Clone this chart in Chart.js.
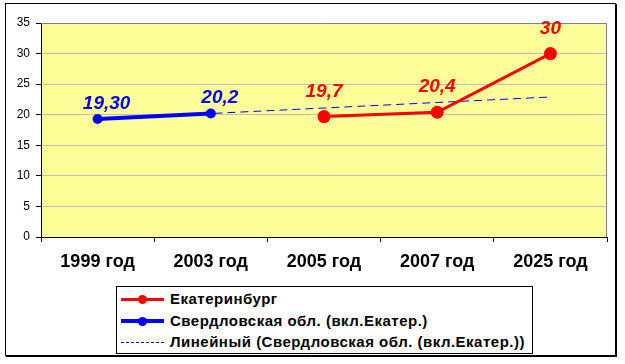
<!DOCTYPE html>
<html>
<head>
<meta charset="utf-8">
<script src="https://cdn.jsdelivr.net/npm/chart.js@4/dist/chart.umd.min.js"></script>
<style>
  html, body { margin: 0; padding: 0; background: #fff; }
  #wrap { position: relative; width: 625px; height: 364px; }
  #legend {
    position: absolute; left: 116px; top: 286px; width: 415px; height: 66px;
    border: 1px solid #000; background: #fff;
    font: bold 15px Arial, "Liberation Sans", sans-serif; color: #000; letter-spacing: 0.5px;
  }
  .row { position: absolute; left: 4px; height: 16px; line-height: 16px; white-space: nowrap; }
  .sample { position: absolute; left: 0; top: 0; width: 43px; height: 16px; }
  .sample .ln { position: absolute; left: 0; right: 0; }
  .sample .dot { position: absolute; left: 17px; width: 9px; height: 9px; border-radius: 50%; top: 4px; }
  .row .txt { position: absolute; left: 49px; top: 0; }
</style>
</head>
<body>
<div id="wrap">
  <canvas id="chart" width="625" height="364"></canvas>
  <div id="legend">
    <div class="row" style="top:4px">
      <div class="sample"><div class="ln" style="top:7px;height:3px;background:#FF0000"></div><div class="dot" style="background:#FF0000"></div></div>
      <span class="txt">Екатеринбург</span>
    </div>
    <div class="row" style="top:26px">
      <div class="sample"><div class="ln" style="top:6px;height:4px;background:#0000FF"></div><div class="dot" style="background:#0000FF"></div></div>
      <span class="txt">Свердловская обл. (вкл.Екатер.)</span>
    </div>
    <div class="row" style="top:47px">
      <div class="sample"><div class="ln" style="top:8px;height:0;border-top:1px dashed #0000FF"></div></div>
      <span class="txt">Линейный (Свердловская обл. (вкл.Екатер.))</span>
    </div>
  </div>
</div>
<script>
"use strict";

// --- данные ---
const years = ["1999 год", "2003 год", "2005 год", "2007 год", "2025 год"];
const ekbValues = [null, null, 19.7, 20.4, 30];
const sverdValues = [19.3, 20.2, null, null, null];
const trendValues = [19.3, 20.2, 21.1, 22.0, 22.9];
const ekbLabels = [null, null, "19,7", "20,4", "30"];
const sverdLabels = ["19,30", "20,2", null, null, null];
const yTicks = [0, 5, 10, 15, 20, 25, 30, 35];

const FONT = 'Arial, "Liberation Sans", sans-serif';

// рамка, фон области построения
const framePlugin = {
    id: "frame",
    beforeDraw(chart) {
        const c = chart.ctx;
        const a = chart.chartArea;
        c.save();
        c.fillStyle = "#fff";
        c.fillRect(0, 0, chart.width, chart.height);
        c.strokeStyle = "#000";
        c.lineWidth = 1;
        c.strokeRect(5.5, 3.5, 610, 352);
        c.beginPath();
        c.moveTo(616.5, 4); c.lineTo(616.5, 357);
        c.moveTo(6, 356.5); c.lineTo(617, 356.5);
        c.stroke();
        c.fillStyle = "#FFFF99";
        c.fillRect(a.left, a.top, a.right - a.left, a.bottom - a.top);
        c.restore();
    },
    beforeDatasetsDraw(chart) {
        const c = chart.ctx;
        const a = chart.chartArea;
        c.save();
        c.strokeStyle = "#808080";
        c.lineWidth = 1;
        c.beginPath();
        c.moveTo(a.left, a.top + 0.5); c.lineTo(a.right - 0.5, a.top + 0.5); c.lineTo(a.right - 0.5, a.bottom);
        c.stroke();
        c.restore();
    }
};

// подписи значений
const valueLabelPlugin = {
    id: "valueLabels",
    afterDatasetsDraw(chart) {
        const c = chart.ctx;
        c.save();
        c.font = "italic bold 19px " + FONT;
        c.textAlign = "center";
        c.textBaseline = "alphabetic";
        chart.data.datasets.forEach((ds, i) => {
            if (!ds.valueLabels) return;
            const meta = chart.getDatasetMeta(i);
            meta.data.forEach((pt, j) => {
                const txt = ds.valueLabels[j];
                if (!txt || ds.data[j] == null) return;
                c.fillStyle = ds.borderColor;
                c.fillText(txt, pt.x + ds.labelDx, pt.y - ds.labelDy);
            });
        });
        c.restore();
    }
};

new Chart(document.getElementById("chart"), {
    type: "line",
    data: {
        labels: years,
        datasets: [
            {
                label: "Екатеринбург", data: ekbValues, valueLabels: ekbLabels,
                labelDx: 0, labelDy: 20,
                borderColor: "#FF0000", backgroundColor: "#FF0000", borderWidth: 3,
                pointRadius: 6.5, pointHoverRadius: 6.5, pointBorderWidth: 0, tension: 0, order: 1
            },
            {
                label: "Свердловская обл. (вкл.Екатер.)", data: sverdValues, valueLabels: sverdLabels,
                labelDx: 9, labelDy: 10,
                borderColor: "#0000FF", backgroundColor: "#0000FF", borderWidth: 4,
                pointRadius: 5, pointHoverRadius: 5, pointBorderWidth: 0, tension: 0, order: 2
            },
            {
                label: "Линейный (Свердловская обл. (вкл.Екатер.))", data: trendValues,
                borderColor: "#0000FF", borderWidth: 1, borderDash: [8, 5],
                pointRadius: 0, tension: 0, order: 3
            }
        ]
    },
    options: {
        responsive: false,
        devicePixelRatio: 1,
        animation: false,
        spanGaps: false,
        layout: { padding: { left: 0, right: 18, top: 23, bottom: 84 } },
        plugins: {
            legend: { display: false },
            tooltip: { enabled: false }
        },
        scales: {
            x: {
                offset: true,
                grid: { display: true, drawOnChartArea: false, offset: true, tickLength: 5, tickColor: "#000" },
                border: { color: "#000", width: 1 },
                ticks: { color: "#000", font: { family: FONT, size: 18, weight: "bold" }, padding: 9, maxRotation: 0 },
                afterFit(s) { s.height = 43; }
            },
            y: {
                min: 0, max: 35,
                afterBuildTicks(s) { s.ticks = yTicks.map(v => ({ value: v })); },
                grid: { color: "#C0C0C0", tickColor: "#000", tickLength: 5 },
                border: { color: "#000", width: 1 },
                ticks: { color: "#000", font: { family: FONT, size: 12 }, padding: 6 },
                afterFit(s) { s.width = 41; }
            }
        }
    },
    plugins: [framePlugin, valueLabelPlugin]
});
</script>
</body>
</html>
